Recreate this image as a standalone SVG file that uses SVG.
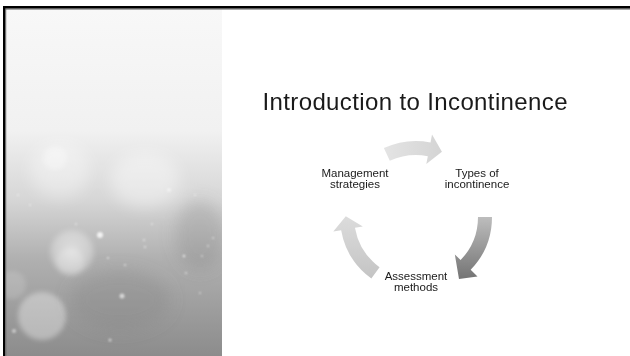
<svg xmlns="http://www.w3.org/2000/svg" width="630" height="356" viewBox="0 0 630 356">
  <defs>
    <clipPath id="panelClip">
      <rect x="6" y="9" width="216" height="347"/>
    </clipPath>
    <linearGradient id="bg" x1="0" y1="0" x2="0" y2="1">
      <stop offset="0" stop-color="#f8f8f8"/>
      <stop offset="0.35" stop-color="#f1f1f1"/>
      <stop offset="0.55" stop-color="#d6d6d6"/>
      <stop offset="0.72" stop-color="#b0b0b0"/>
      <stop offset="1" stop-color="#8c8c8c"/>
    </linearGradient>
    <radialGradient id="glow">
      <stop offset="0" stop-color="#ffffff" stop-opacity="0.55"/>
      <stop offset="0.8" stop-color="#ffffff" stop-opacity="0.3"/>
      <stop offset="1" stop-color="#ffffff" stop-opacity="0"/>
    </radialGradient>
    <filter id="blur" x="-50%" y="-50%" width="200%" height="200%">
      <feGaussianBlur stdDeviation="2.5"/>
    </filter>
    <filter id="blur2" x="-50%" y="-50%" width="200%" height="200%">
      <feGaussianBlur stdDeviation="8"/>
    </filter>
    <filter id="blur1" x="-50%" y="-50%" width="200%" height="200%">
      <feGaussianBlur stdDeviation="0.8"/>
    </filter>
    <linearGradient id="gTop" x1="0" y1="0" x2="1" y2="0">
      <stop offset="0" stop-color="#e4e4e4"/>
      <stop offset="1" stop-color="#d4d4d4"/>
    </linearGradient>
    <linearGradient id="gRight" x1="0" y1="0" x2="0" y2="1">
      <stop offset="0" stop-color="#bdbdbd"/>
      <stop offset="1" stop-color="#747474"/>
    </linearGradient>
    <linearGradient id="gLeft" x1="0" y1="1" x2="0" y2="0">
      <stop offset="0" stop-color="#c4c4c4"/>
      <stop offset="1" stop-color="#dcdcdc"/>
    </linearGradient>
    <style>
      .lbl { font-family: "Liberation Sans", Arial, sans-serif; font-size: 11.5px; fill: #1a1a1a; text-anchor: middle; }
      .title { font-family: "Liberation Sans", Arial, sans-serif; font-size: 24px; fill: #1a1a1a; }
    </style>
  </defs>

  <rect x="0" y="0" width="630" height="356" fill="#ffffff"/>

  <!-- left decorative panel -->
  <g id="panel" clip-path="url(#panelClip)">
    <rect x="6" y="9" width="216" height="347" fill="url(#bg)"/>
    <g filter="url(#blur2)">
      <ellipse cx="60" cy="170" rx="30" ry="28" fill="#ffffff" opacity="0.35"/>
      <ellipse cx="145" cy="180" rx="35" ry="28" fill="#ffffff" opacity="0.4"/>
      <ellipse cx="200" cy="235" rx="25" ry="35" fill="#777777" opacity="0.25"/>
      <ellipse cx="120" cy="300" rx="50" ry="30" fill="#808080" opacity="0.3"/>
    </g>
    <g filter="url(#blur)">
      <circle cx="72" cy="252" r="24" fill="url(#glow)"/>
      <circle cx="70" cy="262" r="14" fill="#ffffff" opacity="0.2"/>
      <circle cx="42" cy="316" r="24" fill="#ffffff" opacity="0.35"/>
      <circle cx="12" cy="285" r="14" fill="#ffffff" opacity="0.15"/>
      <circle cx="55" cy="158" r="12" fill="#ffffff" opacity="0.3"/>
    </g>
    <g filter="url(#blur1)" fill="#ffffff">
      <circle cx="100" cy="235" r="3" opacity="0.8"/>
      <circle cx="122" cy="296" r="2.5" opacity="0.6"/>
      <circle cx="108" cy="258" r="1" opacity="0.7"/>
      <circle cx="125" cy="265" r="1" opacity="0.7"/>
      <circle cx="144" cy="240" r="1" opacity="0.7"/>
      <circle cx="145" cy="247" r="1" opacity="0.7"/>
      <circle cx="152" cy="224" r="1" opacity="0.6"/>
      <circle cx="184" cy="256" r="1.2" opacity="0.8"/>
      <circle cx="186" cy="273" r="1" opacity="0.7"/>
      <circle cx="202" cy="256" r="1" opacity="0.6"/>
      <circle cx="200" cy="293" r="1" opacity="0.6"/>
      <circle cx="169" cy="190" r="2" opacity="0.5"/>
      <circle cx="195" cy="195" r="1" opacity="0.6"/>
      <circle cx="76" cy="224" r="1" opacity="0.6"/>
      <circle cx="30" cy="205" r="1" opacity="0.6"/>
      <circle cx="18" cy="195" r="1" opacity="0.6"/>
      <circle cx="110" cy="340" r="1.5" opacity="0.6"/>
      <circle cx="14" cy="331" r="2" opacity="0.5"/>
      <circle cx="208" cy="246" r="1" opacity="0.6"/>
      <circle cx="213" cy="238" r="1" opacity="0.6"/>
    </g>
  </g>

  <!-- frame -->
  <rect x="3" y="6" width="627" height="2.6" fill="#000000"/>
  <rect x="5.5" y="8.6" width="624.5" height="0.9" fill="#555555"/>
  <rect x="3" y="6" width="2.4" height="350" fill="#000000"/>
  <rect x="5.4" y="8.6" width="0.8" height="347.4" fill="#555555"/>

  <text class="title" x="262.5" y="110" textLength="305" lengthAdjust="spacing">Introduction to Incontinence</text>

  <!-- connectors: cycle arrows -->
  <g id="connectors">
    <path d="M383.88,148.12 A76,76 0 0 1 430.50,142.40 L432.03,134.55 L441.93,151.75 L426.30,163.99 L427.83,156.14 A62,62 0 0 0 389.80,160.81 Z" fill="url(#gTop)"/>
    <path d="M492,217 A76,76 0 0 1 470.67,269.80 L477.5,276.5 L459,279 L454.84,254.51 L460.60,260.07 A62,62 0 0 0 478,217 Z" fill="url(#gRight)"/>
    <path d="M371.33,278.49 A76,76 0 0 1 341.15,230.20 L333.28,231.59 L345.8,216.2 L362.82,226.38 L354.94,227.77 A62,62 0 0 0 379.56,267.16 Z" fill="url(#gLeft)"/>
  </g>

  <g id="node-types">
    <text class="lbl" x="477" y="176.5">Types of</text>
    <text class="lbl" x="477" y="188">incontinence</text>
  </g>
  <g id="node-assessment">
    <text class="lbl" x="416" y="279.5">Assessment</text>
    <text class="lbl" x="416" y="291">methods</text>
  </g>
  <g id="node-management">
    <text class="lbl" x="355" y="176.5">Management</text>
    <text class="lbl" x="355" y="188">strategies</text>
  </g>
</svg>
